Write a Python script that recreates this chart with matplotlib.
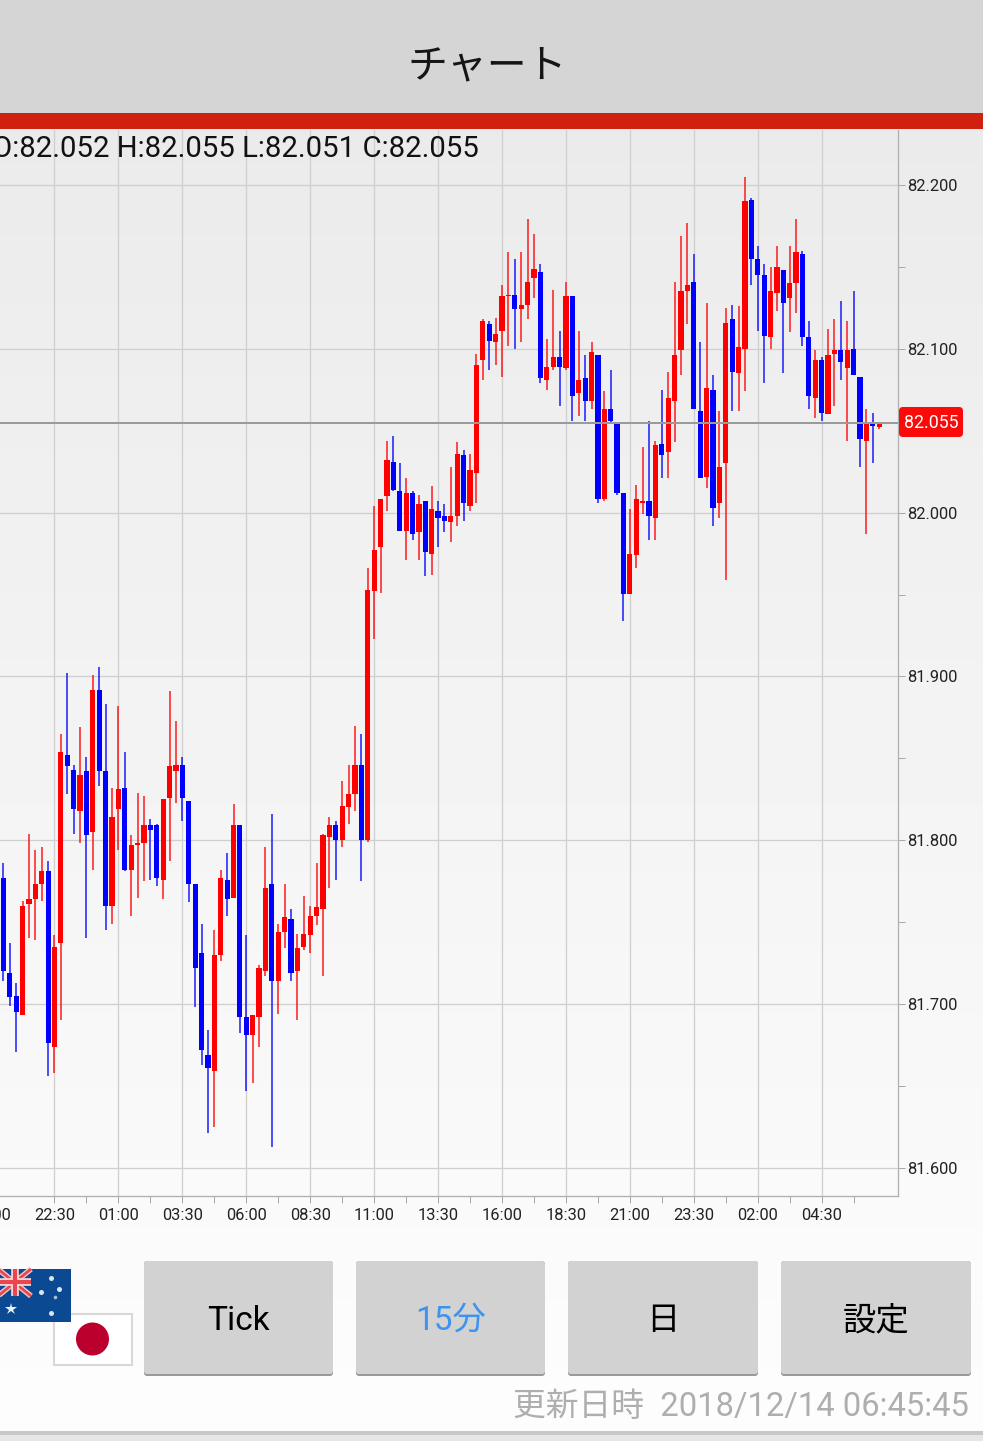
import numpy as np
import matplotlib
matplotlib.use("Agg")
import matplotlib.pyplot as plt
from matplotlib.patches import Rectangle, FancyBboxPatch, Circle

plt.rcParams['font.family'] = ['Roboto', 'Noto Sans CJK JP', 'DejaVu Sans']

# 15 minute candles, first one sits 8 bars left of the 22:30 gridline
first_bar = -8

opens = [81.777,81.719,81.705,81.693,81.761,81.764,81.773,81.781,81.674,81.737,
         81.852,81.843,81.818,81.842,81.805,81.892,81.842,81.760,81.819,81.832,
         81.782,81.797,81.798,81.809,81.809,81.776,81.826,81.842,81.846,81.824,
         81.773,81.731,81.669,81.659,81.730,81.776,81.765,81.809,81.692,81.681,
         81.692,81.720,81.773,81.714,81.744,81.752,81.720,81.735,81.742,81.754,
         81.758,81.802,81.809,81.800,81.820,81.828,81.846,81.800,81.952,81.979,
         82.010,82.031,82.013,81.989,82.012,81.988,82.007,81.975,82.001,81.998,
         81.994,81.998,82.035,82.004,82.024,82.093,82.115,82.104,82.111,82.132,
         82.133,82.124,82.127,82.143,82.147,82.081,82.089,82.095,82.088,82.132,
         82.073,82.082,82.068,82.096,82.008,82.063,82.054,82.012,81.950,81.974,
         82.006,82.007,81.997,82.042,82.037,82.068,82.099,82.135,82.141,82.062,
         82.022,82.075,82.006,82.030,82.118,82.085,82.100,82.191,82.155,82.145,
         82.107,82.134,82.148,82.131,82.140,82.158,82.107,82.070,82.093,82.060,
         82.097,82.099,82.088,82.100,82.083,82.044,82.054,82.052]
closes = [81.720,81.704,81.695,81.760,81.764,81.773,81.781,81.676,81.735,81.854,
          81.845,81.819,81.840,81.803,81.892,81.842,81.760,81.814,81.831,81.782,
          81.797,81.798,81.809,81.806,81.777,81.825,81.845,81.846,81.826,81.773,
          81.722,81.672,81.661,81.730,81.777,81.764,81.809,81.692,81.681,81.693,
          81.722,81.771,81.714,81.744,81.753,81.719,81.734,81.743,81.754,81.759,
          81.803,81.809,81.800,81.821,81.828,81.846,81.800,81.953,81.977,82.008,
          82.032,82.014,81.989,82.012,81.987,82.005,81.976,82.002,81.997,81.995,
          81.998,82.036,82.006,82.026,82.090,82.117,82.105,82.109,82.132,82.132,
          82.124,82.127,82.141,82.149,82.082,82.089,82.095,82.089,82.132,82.071,
          82.081,82.068,82.098,82.008,82.063,82.056,82.012,81.950,81.975,82.008,
          82.007,81.998,82.041,82.035,82.070,82.096,82.135,82.139,82.063,82.021,
          82.076,82.003,82.028,82.116,82.086,82.101,82.190,82.155,82.145,82.108,
          82.135,82.150,82.128,82.140,82.159,82.107,82.071,82.093,82.061,82.096,
          82.099,82.092,82.099,82.084,82.045,82.054,82.053,82.055]
highs = [81.786,81.737,81.713,81.763,81.804,81.794,81.796,81.787,81.742,81.865,
         81.902,81.846,81.869,81.851,81.901,81.906,81.883,81.832,81.882,81.854,
         81.803,81.829,81.827,81.813,81.810,81.825,81.891,81.873,81.851,81.824,
         81.773,81.749,81.684,81.745,81.782,81.792,81.822,81.809,81.742,81.693,
         81.724,81.796,81.816,81.749,81.773,81.758,81.743,81.766,81.760,81.786,
         81.804,81.814,81.812,81.836,81.846,81.870,81.865,81.966,82.004,82.008,
         82.044,82.047,82.030,82.021,82.013,82.011,82.007,82.016,82.007,82.005,
         82.028,82.043,82.038,82.036,82.097,82.118,82.117,82.119,82.139,82.159,
         82.155,82.159,82.179,82.170,82.152,82.106,82.136,82.111,82.141,82.132,
         82.111,82.096,82.104,82.096,82.074,82.087,82.055,82.012,82.002,82.017,
         82.040,82.056,82.044,82.075,82.086,82.141,82.169,82.177,82.158,82.104,
         82.128,82.084,82.062,82.125,82.127,82.126,82.205,82.192,82.163,82.152,
         82.150,82.163,82.148,82.163,82.179,82.160,82.117,82.099,82.095,82.112,
         82.118,82.129,82.117,82.135,82.083,82.063,82.061,82.055]
lows = [81.714,81.699,81.671,81.693,81.740,81.739,81.763,81.656,81.658,81.690,
        81.828,81.804,81.798,81.740,81.782,81.833,81.745,81.749,81.794,81.781,
        81.754,81.765,81.775,81.776,81.772,81.764,81.787,81.823,81.812,81.762,
        81.698,81.663,81.621,81.625,81.726,81.754,81.765,81.682,81.647,81.652,
        81.674,81.717,81.613,81.694,81.734,81.714,81.690,81.733,81.731,81.748,
        81.717,81.771,81.776,81.796,81.810,81.818,81.775,81.799,81.923,81.951,
        82.001,82.013,81.989,81.971,81.983,81.971,81.961,81.962,81.979,81.988,
        81.982,81.992,81.995,82.001,82.006,82.081,82.087,82.090,82.083,82.102,
        82.100,82.104,82.118,82.131,82.079,82.075,82.087,82.065,82.087,82.056,
        82.059,82.056,82.063,82.006,82.007,82.054,82.011,81.934,81.950,81.966,
        81.999,81.983,81.983,82.021,82.021,82.043,82.084,82.115,82.063,82.021,
        82.015,81.992,81.997,81.959,82.062,82.062,82.074,82.139,82.111,82.079,
        82.100,82.123,82.085,82.110,82.122,82.102,82.063,82.058,82.056,82.060,
        82.065,82.081,82.044,82.084,82.028,81.987,82.030,82.051]

time_labels = ['20:00','22:30','01:00','03:30','06:00','08:30','11:00','13:30',
               '16:00','18:30','21:00','23:30','02:00','04:30']
price_labels = [82.2, 82.1, 82.0, 81.9, 81.8, 81.7, 81.6]
last_price = 82.055
ohlc_text = 'O:82.052 H:82.055 L:82.051 C:82.055'
updated_text = '更新日時  2018/12/14 06:45:45'
buttons = ['Tick', '15分', '日', '設定']

W, H = 983, 1441
PX = 72 / 100  # one pixel in points

fig = plt.figure(figsize=(W / 100, H / 100), dpi=100)

# page background
bg = fig.add_axes([0, 0, 1, 1])
bg.axis('off')
grad = np.linspace(0.913, 0.992, 256).reshape(-1, 1)
bg.imshow(grad, aspect='auto', cmap='gray', vmin=0, vmax=1, extent=(0, 1, 0, 1), origin='upper')

# chart axes, 0..898 px wide, 130..1196 px tall
ax = fig.add_axes([0, (H - 1196) / H, 898 / W, (1196 - 130) / H])
ax.patch.set_alpha(0)
bar_px = 6.393
ax.set_xlim(-54.5 / bar_px, (898 - 54.5) / bar_px)
ax.set_ylim(82.2 - (1196 - 185) / 1638, 82.2 + (185 - 130) / 1638)

x = first_bar + np.arange(len(opens))
op = np.array(opens)
cl = np.array(closes)
colors = np.where(cl >= op, '#ff0000', '#0000ff')

ax.vlines(x, lows, highs, colors=colors, lw=1.6 * PX, alpha=0.85, zorder=3)
body_h = np.maximum(np.abs(cl - op), 0.001)
body_lo = np.minimum(op, cl)
ax.bar(x, body_h, bottom=body_lo, width=5.2 / bar_px, color=colors, lw=0, zorder=4)

ax.axhline(last_price, color='#9a9a9a', lw=2 * PX, zorder=5)

ax.set_xticks(np.arange(0, 126, 10))
ax.set_xticks(np.arange(5, 126, 10), minor=True)
ax.set_xticklabels(time_labels[1:], fontsize=11.9, color='#222222')
ax.set_yticks(price_labels)
ax.set_yticks(np.arange(81.65, 82.2, 0.1), minor=True)
ax.set_yticklabels(['%.3f' % p for p in price_labels], fontsize=11.9, color='#222222')
ax.yaxis.tick_right()
ax.grid(True, which='major', color='#cfcfcf', lw=1.3 * PX, zorder=1)
ax.set_axisbelow(True)
ax.tick_params(axis='both', which='both', length=7 * PX, width=1 * PX, color='#a8a8a8')
ax.tick_params(axis='x', which='major', pad=5.5 * PX)
ax.tick_params(axis='y', which='major', pad=2 * PX)
for side in ['top', 'left']:
    ax.spines[side].set_visible(False)
for side in ['right', 'bottom']:
    ax.spines[side].set_color('#b0b0b0')
    ax.spines[side].set_linewidth(1.3 * PX)

# everything outside the chart is placed in pixels
ui = fig.add_axes([0, 0, 1, 1])
ui.patch.set_alpha(0)
ui.set_xlim(0, W)
ui.set_ylim(H, 0)
ui.axis('off')

ui.add_patch(Rectangle((0, 0), W, 113, color='#d5d5d5', lw=0))
ui.add_patch(Rectangle((0, 113), W, 16, color='#d02010', lw=0))
ui.text(487, 66, 'チャート', fontsize=28.7, ha='center', va='center', color='#151515')
ui.text(479, 149, ohlc_text, fontsize=21.2, ha='right', va='center', color='#111111')

# clipped first time label
ui.text(-9.4, 1215, time_labels[0], fontsize=11.9, ha='center', va='center', color='#222222', clip_on=False)

# current price tag
ui.add_patch(FancyBboxPatch((902, 410), 58, 24, boxstyle='round,pad=3,rounding_size=4', color='#fb0a0a', lw=0))
ui.text(931, 423, '%.3f' % last_price, fontsize=12.8, ha='center', va='center', color='white')

# flags
ui.add_patch(Rectangle((54, 1314), 78, 51, facecolor='white', edgecolor='#d8d8d8', lw=1.5))
ui.add_patch(Circle((92.5, 1339), 16.5, color='#bc002d', lw=0))
ui.add_patch(Rectangle((0, 1269), 71, 53, color='#0b4a92', lw=0))
canton = Rectangle((0, 1269), 31, 27, transform=ui.transData)
for x0, y0, x1, y1 in [(-2, 1269, 31, 1296), (-2, 1296, 31, 1269)]:
    ui.plot([x0, x1], [y0, y1], color='#f4c6c8', lw=4, clip_path=canton, solid_capstyle='butt')
    ui.plot([x0, x1], [y0, y1], color='#e8474f', lw=2, clip_path=canton, solid_capstyle='butt')
ui.plot([0, 31], [1282, 1282], color='#f8dcdc', lw=5.5, clip_path=canton, solid_capstyle='butt')
ui.plot([15, 15], [1269, 1296], color='#f8dcdc', lw=5.5, clip_path=canton, solid_capstyle='butt')
ui.plot([0, 31], [1282, 1282], color='#e8474f', lw=3, clip_path=canton, solid_capstyle='butt')
ui.plot([15, 15], [1269, 1296], color='#e8474f', lw=3, clip_path=canton, solid_capstyle='butt')
ui.plot([51, 59, 41, 51], [1278, 1289, 1292, 1313], ls='none', marker='o', ms=3.6, color='#dbe5f1', mew=0)
ui.plot([55], [1297], ls='none', marker='o', ms=2.6, color='#a9bedb', mew=0)
ui.plot([11], [1309], ls='none', marker='*', ms=9, color='#eef2f8', mew=0)

# buttons
btn_x = [(144, 333), (356, 545), (568, 758), (781, 971)]
btn_col = ['black', '#3d93f0', 'black', 'black']
for (x0, x1), label, col in zip(btn_x, buttons, btn_col):
    ui.add_patch(FancyBboxPatch((x0 + 3, 1264), x1 - x0 - 6, 109, boxstyle='round,pad=3,rounding_size=3', color='#9a9a9a', lw=0))
    ui.add_patch(FancyBboxPatch((x0 + 3, 1264), x1 - x0 - 6, 107, boxstyle='round,pad=3,rounding_size=3', color='#d2d2d2', lw=0))
    ui.text((x0 + x1) / 2, 1321, label, fontsize=24, ha='center', va='center', color=col)

ui.text(969, 1407, updated_text, fontsize=23.6, ha='right', va='center', color='#aeaeae')

ui.add_patch(Rectangle((0, 1431), W, 4, color='#c8c8c8', lw=0))
ui.add_patch(Rectangle((0, 1435), W, 6, color='#e6e6e6', lw=0))

fig.savefig('out.png', dpi=100)
